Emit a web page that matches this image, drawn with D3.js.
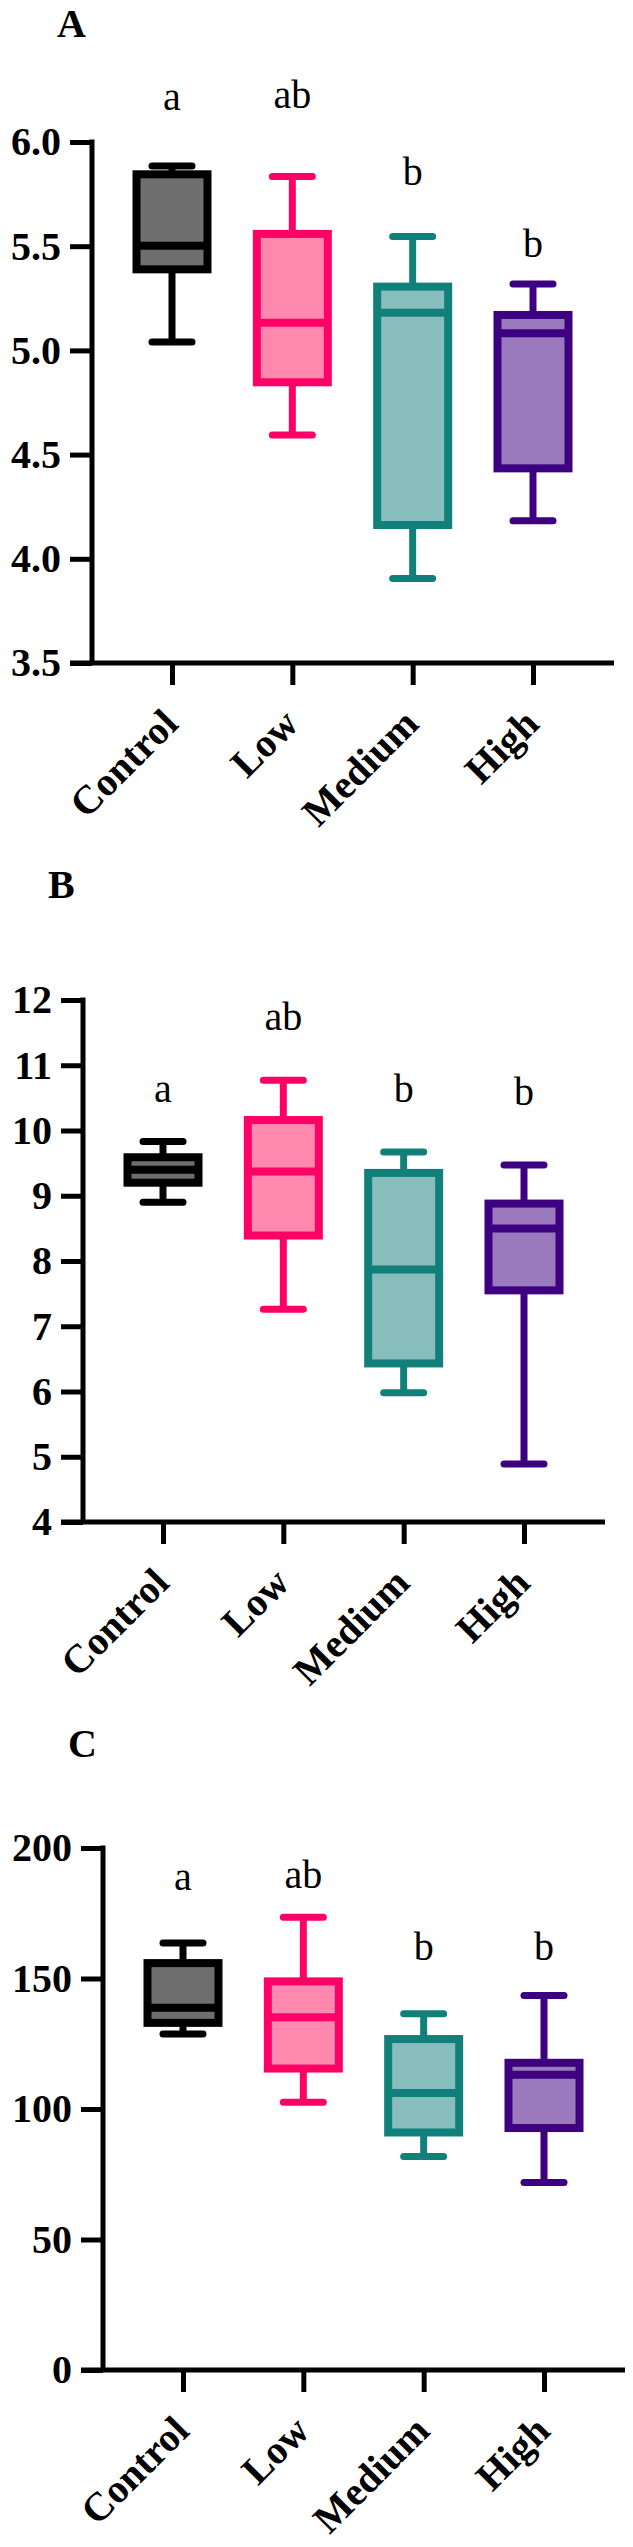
<!DOCTYPE html>
<html>
<head>
<meta charset="utf-8">
<script src="https://cdn.jsdelivr.net/npm/d3@7"></script>
<style>
  html, body { margin: 0; padding: 0; background: #fff; }
  svg { display: block; }
</style>
</head>
<body>
<script>
// ---------------- data ----------------
const categories = ["Control", "Low", "Medium", "High"];
const strokeColors = ["#000000", "#ff0066", "#12807a", "#3d0080"];
const fillColors = ["#6e6e6e", "#ff88ae", "#87bdbc", "#9a7abd"];
const sigLetters = ["a", "ab", "b", "b"];

// Panel A
const aMin = [5.04, 4.594, 3.906, 4.183];
const aQ1  = [5.389, 4.847, 4.162, 4.434];
const aMed = [5.502, 5.133, 5.181, 5.082];
const aQ3  = [5.845, 5.559, 5.306, 5.170];
const aMax = [5.885, 5.834, 5.546, 5.319];
const aLetterY = [6.154, 6.163, 5.794, 5.448];
const aTicks = [3.5, 4.0, 4.5, 5.0, 5.5, 6.0];
const aTickLabels = ["3.5", "4.0", "4.5", "5.0", "5.5", "6.0"];

// Panel B
const bMin = [8.90, 7.26, 5.98, 4.89];
const bQ1  = [9.20, 8.39, 6.43, 7.55];
const bMed = [9.40, 9.37, 7.87, 8.50];
const bQ3  = [9.59, 10.16, 9.35, 8.88];
const bMax = [9.83, 10.77, 9.67, 9.47];
const bLetterY = [10.44, 11.54, 10.44, 10.39];
const bTicks = [4, 5, 6, 7, 8, 9, 10, 11, 12];
const bTickLabels = ["4", "5", "6", "7", "8", "9", "10", "11", "12"];

// Panel C
const cMin = [128.7, 102.6, 81.8, 71.8];
const cQ1  = [133.0, 115.5, 91.0, 92.7];
const cMed = [138.8, 135.2, 106.1, 113.1];
const cQ3  = [155.9, 148.9, 126.8, 117.7];
const cMax = [163.6, 173.5, 136.5, 143.5];
const cLetterY = [184, 184.8, 157.2, 157.2];
const cTicks = [0, 50, 100, 150, 200];
const cTickLabels = ["0", "50", "100", "150", "200"];

// ---------------- layout ----------------
const W = 633, H = 2547;
const svg = d3.select("body").append("svg").attr("width", W).attr("height", H);

const panels = [
  { name: "A", axisX: 92, top: 142, bottom: 663, labelBase: 37, domain: [3.5, 6.0],
    min: aMin, q1: aQ1, med: aMed, q3: aQ3, max: aMax, letterY: aLetterY, ticks: aTicks, tickLabels: aTickLabels },
  { name: "B", axisX: 83, top: 1000, bottom: 1522, labelBase: 898, domain: [4, 12],
    min: bMin, q1: bQ1, med: bMed, q3: bQ3, max: bMax, letterY: bLetterY, ticks: bTicks, tickLabels: bTickLabels },
  { name: "C", axisX: 103, top: 1848, bottom: 2370, labelBase: 1757, domain: [0, 200],
    min: cMin, q1: cQ1, med: cMed, q3: cQ3, max: cMax, letterY: cLetterY, ticks: cTicks, tickLabels: cTickLabels }
];

const FONT = "'Liberation Serif', 'Times New Roman', Times, serif";
const boxW = 71, capHalf = 20;

panels.forEach(p => {
  const g = svg.append("g");
  const y = d3.scaleLinear().domain(p.domain).range([p.bottom, p.top]);
  const x = d3.scalePoint().domain(categories).range([p.axisX + 80, p.axisX + 441]);
  const axisEnd = p.axisX + 522;

  // panel letter
  g.append("text").attr("x", p.axisX - 35).attr("y", p.labelBase)
    .attr("font-family", FONT).attr("font-weight", "bold").attr("font-size", 40)
    .text(p.name);

  // y axis
  const yAxis = d3.axisLeft(y).tickValues(p.ticks)
    .tickFormat((d, i) => p.tickLabels[i]).tickSize(22).tickSizeOuter(0).tickPadding(9);
  const ya = g.append("g").attr("transform", `translate(${p.axisX},0)`).call(yAxis);
  ya.select(".domain").attr("stroke", "#000").attr("stroke-width", 5)
    .attr("d", `M0,${p.top - 2.5}V${p.bottom}`);
  ya.selectAll(".tick line").attr("stroke", "#000").attr("stroke-width", 5);
  ya.selectAll(".tick text").attr("font-family", FONT).attr("font-weight", "bold")
    .attr("font-size", 40).attr("fill", "#000");

  // x axis
  const xAxis = d3.axisBottom(x).tickSize(22).tickSizeOuter(0).tickFormat("");
  const xa = g.append("g").attr("transform", `translate(0,${p.bottom})`).call(xAxis);
  xa.select(".domain").attr("stroke", "#000").attr("stroke-width", 5)
    .attr("d", `M${p.axisX - 22},0H${axisEnd}`);
  xa.selectAll(".tick line").attr("stroke", "#000").attr("stroke-width", 5);

  // x labels (rotated)
  g.selectAll(".xlab").data(categories).join("text")
    .attr("class", "xlab")
    .attr("transform", d => `translate(${x(d) + 8},${p.bottom + 63}) rotate(-45)`)
    .attr("text-anchor", "end")
    .attr("font-family", FONT).attr("font-weight", "bold").attr("font-size", 40)
    .text(d => d);

  // boxes
  categories.forEach((c, i) => {
    const cx = x(c);
    const sc = strokeColors[i], fc = fillColors[i];
    const bg = g.append("g");
    // whiskers
    bg.append("line").attr("x1", cx).attr("x2", cx).attr("y1", y(p.q3[i])).attr("y2", y(p.max[i]))
      .attr("stroke", sc).attr("stroke-width", 7);
    bg.append("line").attr("x1", cx).attr("x2", cx).attr("y1", y(p.q1[i])).attr("y2", y(p.min[i]))
      .attr("stroke", sc).attr("stroke-width", 7);
    [p.max[i], p.min[i]].forEach(v => {
      bg.append("line").attr("x1", cx - capHalf).attr("x2", cx + capHalf)
        .attr("y1", y(v)).attr("y2", y(v))
        .attr("stroke", sc).attr("stroke-width", 7).attr("stroke-linecap", "round");
    });
    // box
    bg.append("rect").attr("x", cx - boxW / 2).attr("width", boxW)
      .attr("y", y(p.q3[i])).attr("height", y(p.q1[i]) - y(p.q3[i]))
      .attr("fill", fc).attr("stroke", sc).attr("stroke-width", 8);
    // median
    bg.append("line").attr("x1", cx - boxW / 2).attr("x2", cx + boxW / 2)
      .attr("y1", y(p.med[i])).attr("y2", y(p.med[i]))
      .attr("stroke", sc).attr("stroke-width", 8);
    // letters
    g.append("text").attr("x", cx).attr("y", y(p.letterY[i]))
      .attr("text-anchor", "middle").attr("font-family", FONT).attr("font-size", 40)
      .text(sigLetters[i]);
  });
});
</script>
</body>
</html>
